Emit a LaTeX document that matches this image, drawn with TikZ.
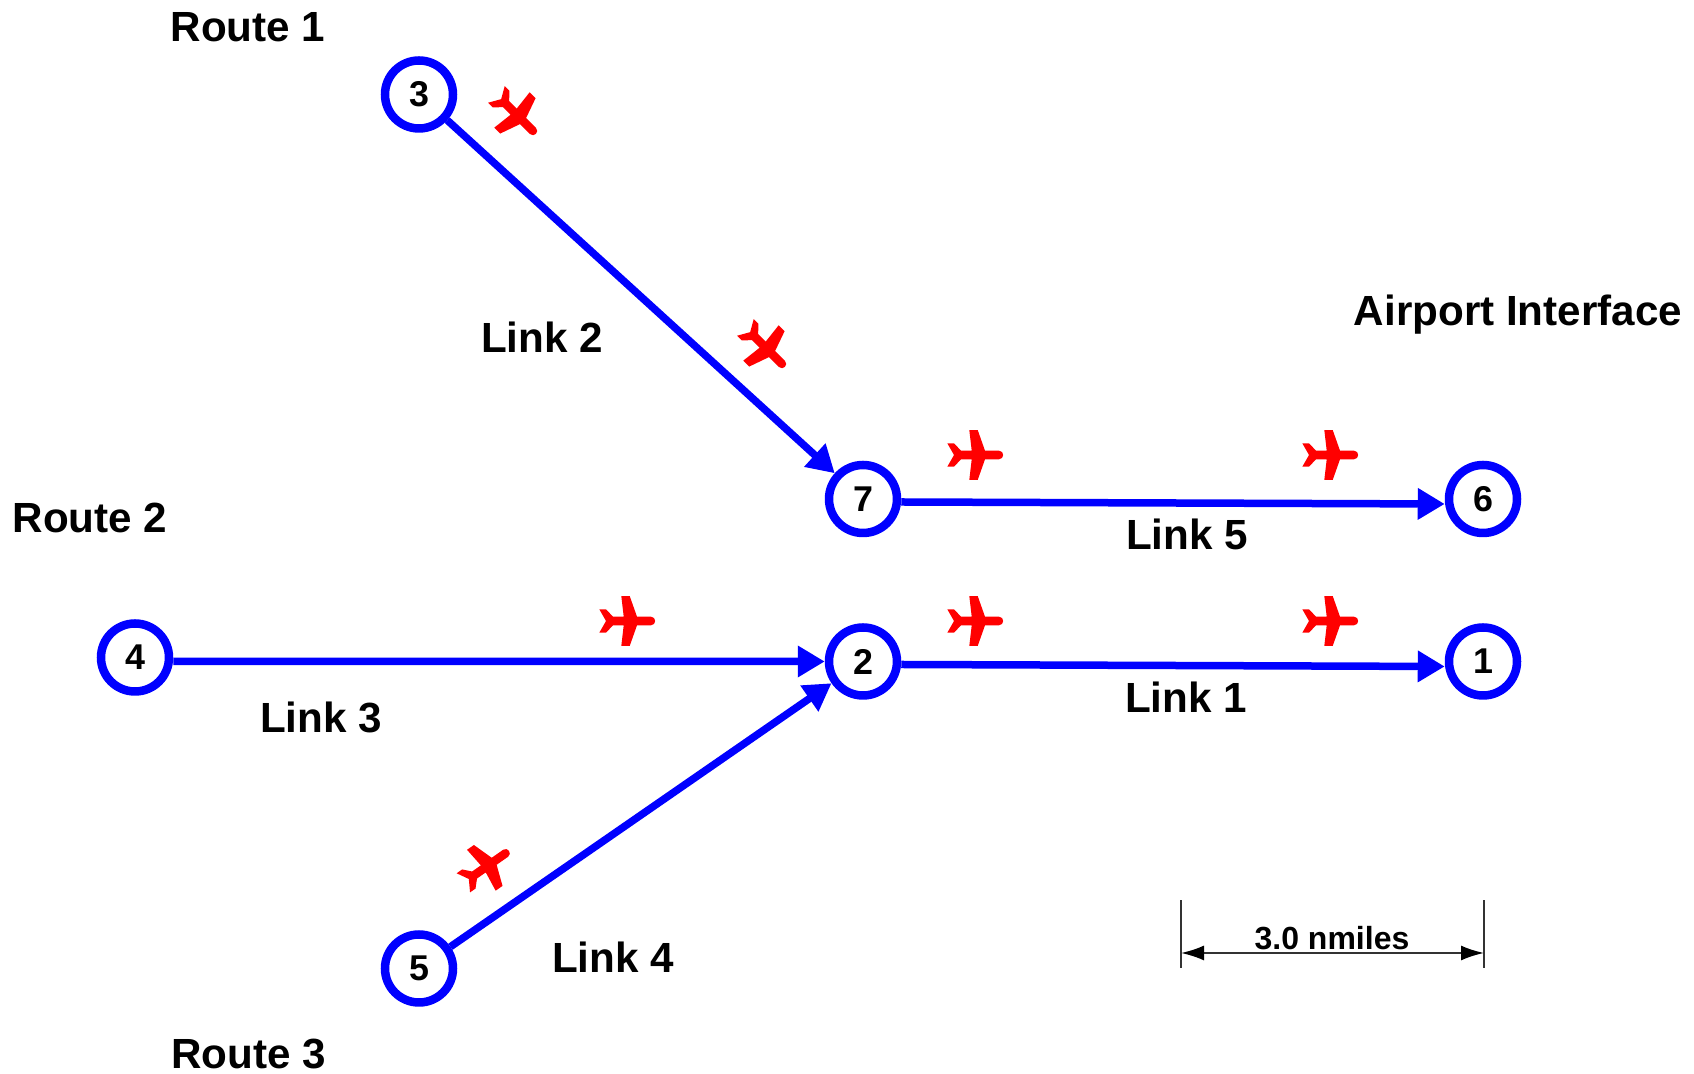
\documentclass[tikz,border=0pt]{standalone}
\usepackage{fontspec}
\setmainfont{Liberation Sans}
\usetikzlibrary{arrows.meta}
\definecolor{linkblue}{RGB}{0,0,255}
\tikzset{
  stop/.style      = { circle, draw=linkblue, line width=0.085cm, minimum size=0.68cm, inner sep=0pt, font=\bfseries\fontsize{10.2}{10}\selectfont },
  link/.style      = { draw=linkblue, line width=0.075cm, -{Triangle[length=0.27cm,width=0.3cm]} },
  caption/.style   = { font=\bfseries\fontsize{12}{12}\selectfont },
  scalebar/.style  = { draw=black!80, line width=0.018cm },
  airplane/.pic    = {
    \fill[red, scale=0.01] (24,4.3) .. controls (29.5,4.3) and (29.5,-4.3) .. (24,-4.3)
      -- (10,-4.3) -- (2.7,-25) -- (-5.7,-25) -- (-3.3,-4.3) -- (-14,-4.3)
      -- (-21,-11.7) -- (-27.7,-11.7) -- (-21,0) -- (-27.7,11.7) -- (-21,11.7)
      -- (-14,4.3) -- (-3.3,4.3) -- (-5.7,25) -- (2.7,25) -- (10,4.3) -- cycle;
  }
}
\begin{document}
\begin{tikzpicture}
    \useasboundingbox (0,0) rectangle (16.94,10.74);

    \node[stop] (n3) at (4.19,9.795) {3};
    \node[stop] (n7) at (8.63,5.75) {7};
    \node[stop] (n6) at (14.83,5.75) {6};
    \node[stop] (n4) at (1.35,4.165) {4};
    \node[stop] (n2) at (8.63,4.125) {2};
    \node[stop] (n1) at (14.83,4.125) {1};
    \node[stop] (n5) at (4.19,1.055) {5};

    \draw[link] (n3) -- (n7);
    \draw[link] ([yshift=-0.03cm]n7.east) -- ([yshift=-0.05cm]n6.west);
    \draw[link] ([yshift=-0.04cm]n4.east) -- (n2.west);
    \draw[link] ([yshift=-0.03cm]n2.east) -- ([yshift=-0.05cm]n1.west);
    \draw[link] (n5) -- (n2);

    \pic[rotate=-45] at (5.16,9.60) {airplane};
    \pic[rotate=-45] at (7.65,7.27) {airplane};
    \pic at (9.75,6.19) {airplane};
    \pic at (13.30,6.19) {airplane};
    \pic at (6.27,4.53) {airplane};
    \pic at (9.75,4.53) {airplane};
    \pic at (13.30,4.53) {airplane};
    \pic[rotate=35] at (4.86,2.07) {airplane};

    \node[caption] (route1) at (2.48,10.47) {Route 1};
    \node[caption] (route2) at (0.90,5.565) {Route 2};
    \node[caption] (route3) at (2.485,0.20) {Route 3};
    \node[caption] (link2) at (5.42,7.37) {Link 2};
    \node[caption] (link5) at (11.87,5.40) {Link 5};
    \node[caption] (link1) at (11.86,3.77) {Link 1};
    \node[caption] (link3) at (3.21,3.57) {Link 3};
    \node[caption] (link4) at (6.13,1.17) {Link 4};
    \node[caption] (airport) at (15.18,7.59) {Airport Interface};

    % scale bar
    \coordinate (barL) at (11.81,1.06);
    \coordinate (barR) at (14.84,1.06);
    \draw[scalebar] (barL) -- ++(0,0.68);
    \draw[scalebar] (barR) -- ++(0,0.68);
    \draw[scalebar, {Latex[length=0.23cm,width=0.15cm,black]}-{Latex[length=0.23cm,width=0.15cm,black]}] ([yshift=0.15cm]barL) -- ([yshift=0.15cm]barR);
    \node[font=\bfseries\fontsize{9.1}{9}\selectfont] (barlabel) at (13.32,1.36) {3.0 nmiles};
\end{tikzpicture}
\end{document}
